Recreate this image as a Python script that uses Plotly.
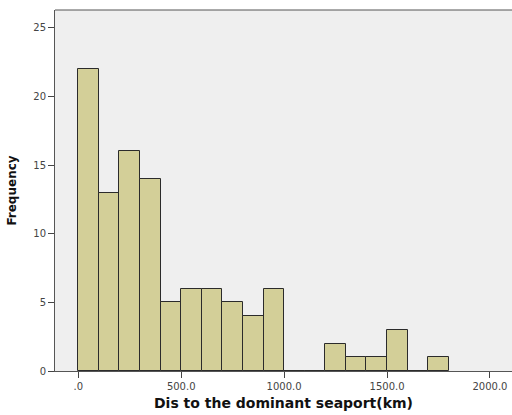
import plotly.graph_objects as go

bin_starts = [0, 100, 200, 300, 400, 500, 600, 700, 800, 900, 1000, 1100, 1200, 1300, 1400, 1500, 1600, 1700]
counts = [22, 13, 16, 14, 5, 6, 6, 5, 4, 6, 0, 0, 2, 1, 1, 3, 0, 1]
bin_width = 100
x_tick_vals = [0, 500, 1000, 1500, 2000]
x_tick_text = [".0", "500.0", "1000.0", "1500.0", "2000.0"]
y_tick_vals = [0, 5, 10, 15, 20, 25]

centers = [s + bin_width / 2 for s in bin_starts]

fig = go.Figure(go.Bar(
    x=centers, y=counts, width=bin_width,
    marker=dict(color="#D3CF98", line=dict(color="#2b2b2b", width=1)),
))

fig.update_layout(
    width=512, height=415,
    margin=dict(l=55, r=0, t=10, b=44),
    paper_bgcolor="white", plot_bgcolor="#EFEFEF",
    showlegend=False, bargap=0,
    font=dict(family="DejaVu Sans", color="#333"),
    shapes=[dict(type="line", xref="paper", yref="paper", x0=0, x1=1, y0=1, y1=1,
                 line=dict(color="#555", width=1))],
)
fig.update_xaxes(
    range=[-113, 2107], tickvals=x_tick_vals, ticktext=x_tick_text,
    ticks="outside", ticklen=6, tickcolor="#444", tickwidth=1,
    showline=True, linecolor="#555", linewidth=1,
    showgrid=False, zeroline=False,
    tickfont=dict(size=10, color="#444"),
    title=dict(text="<b>Dis to the dominant seaport(km)</b>", font=dict(size=14, color="#111"), standoff=7),
)
fig.update_yaxes(
    range=[0, 26.3], tickvals=y_tick_vals,
    ticks="outside", ticklen=6, tickcolor="#444", tickwidth=1,
    showline=True, linecolor="#555", linewidth=1,
    showgrid=False, zeroline=False,
    tickfont=dict(size=10, color="#444"),
    title=dict(text="<b>Frequency</b>", font=dict(size=12, color="#111"), standoff=14),
)

fig.write_html("out.html")
